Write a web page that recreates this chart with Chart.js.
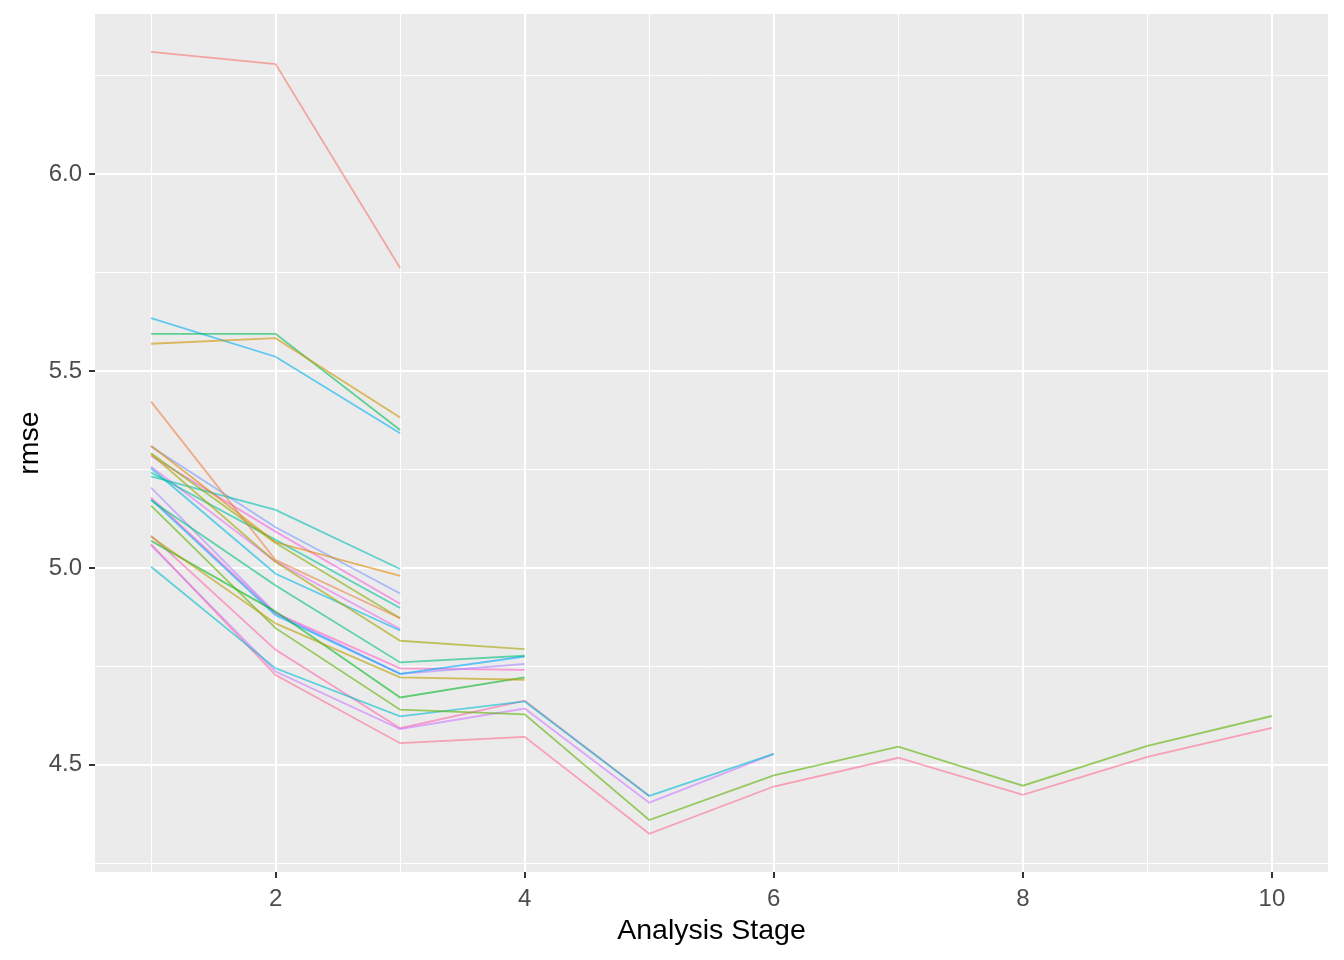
<!DOCTYPE html>
<html>
<head>
<meta charset="utf-8">
<script src="https://cdn.jsdelivr.net/npm/chart.js@4/dist/chart.umd.min.js"></script>
<style>
	html, body { margin: 0; padding: 0; background: #fff; }
	#wrap { width: 1344px; height: 960px; position: relative; }
</style>
</head>
<body>
<div id="wrap"><canvas id="rmseChart"></canvas></div>
<script>
// analysis stages on the x axis
const stages = [1, 2, 3, 4, 5, 6, 7, 8, 9, 10];

// rmse per run, one array per run (runs stop at different stages)
const runs = [
	[6.310, 6.279, 5.761],
	[5.422, 5.020, 4.872],
	[5.310, 5.065, 4.980],
	[5.569, 5.583, 5.382],
	[5.079, 4.859, 4.722, 4.716],
	[5.289, 5.015, 4.815, 4.794],
	[5.291, 5.063, 4.872],
	[5.158, 4.847, 4.640, 4.628, 4.360, 4.473, 4.546, 4.447, 4.548, 4.624],
	[5.069, 4.889, 4.671, 4.722],
	[5.594, 5.594, 5.350],
	[5.171, 4.955, 4.760, 4.777],
	[5.242, 5.071, 4.898],
	[5.232, 5.147, 4.997],
	[5.003, 4.745, 4.623, 4.661, 4.421, 4.528],
	[5.253, 4.985, 4.841],
	[5.634, 5.536, 5.342],
	[5.174, 4.880, 4.731, 4.775],
	[5.308, 5.103, 4.935],
	[5.204, 4.885, 4.731, 4.756],
	[5.057, 4.737, 4.591, 4.643, 4.404, 4.528],
	[5.257, 5.016, 4.845],
	[5.284, 5.092, 4.909],
	[5.178, 4.885, 4.745, 4.741],
	[5.082, 4.792, 4.593, 4.663, 4.421],
	[5.060, 4.728, 4.555, 4.571, 4.325, 4.445, 4.518, 4.424, 4.520, 4.594]
];

const xTicks = [1, 2, 3, 4, 5, 6, 7, 8, 9, 10];
const yTicks = [4.25, 4.5, 4.75, 5.0, 5.25, 5.5, 5.75, 6.0, 6.25];

// ggplot-like hue palette (hcl, c=100, l=65)
function hcl(h, c, l) {
	const Xn = 95.047, Yn = 100, Zn = 108.883;
	const d = Xn + 15 * Yn + 3 * Zn;
	const un = 4 * Xn / d, vn = 9 * Yn / d;
	const hr = h * Math.PI / 180;
	const u = c * Math.cos(hr), v = c * Math.sin(hr);
	const Y = Yn * Math.pow((l + 16) / 116, 3);
	const up = u / (13 * l) + un, vp = v / (13 * l) + vn;
	const X = Y * 9 * up / (4 * vp), Z = Y * (12 - 3 * up - 20 * vp) / (4 * vp);
	const x = X / 100, y = Y / 100, z = Z / 100;
	const r = 3.2404542 * x - 1.5371385 * y - 0.4985314 * z;
	const g = -0.9692660 * x + 1.8760108 * y + 0.0415560 * z;
	const b = 0.0556434 * x - 0.2040259 * y + 1.0572252 * z;
	const gam = t => {
		t = t <= 0.0031308 ? 12.92 * t : 1.055 * Math.pow(t, 1 / 2.4) - 0.055;
		return Math.round(255 * Math.min(1, Math.max(0, t)));
	};
	return [gam(r), gam(g), gam(b)];
}

const n = runs.length;
const datasets = runs.map((vals, i) => {
	const [r, g, b] = hcl(15 + 360 * i / n, 100, 65);
	return {
		label: 'run ' + (i + 1),
		data: vals.map((v, k) => ({ x: stages[k], y: v })),
		borderColor: `rgba(${r},${g},${b},0.6)`,
		borderWidth: 1.8,
		pointRadius: 0,
		tension: 0,
		fill: false
	};
});

const isMajorY = v => Math.abs(v * 2 - Math.round(v * 2)) < 1e-6;
const isMajorX = v => v % 2 === 0;

const panelBg = {
	id: 'panelBg',
	beforeDraw(chart) {
		const { ctx, chartArea: a } = chart;
		ctx.save();
		ctx.fillStyle = '#EBEBEB';
		ctx.fillRect(a.left, a.top, a.right - a.left, a.bottom - a.top);
		ctx.restore();
	}
};

new Chart(document.getElementById('rmseChart'), {
	type: 'line',
	data: { datasets },
	plugins: [panelBg],
	options: {
		responsive: true,
		maintainAspectRatio: false,
		animation: false,
		layout: { padding: { top: 14, right: 16, left: 0, bottom: 0 } },
		plugins: { legend: { display: false }, tooltip: { enabled: false } },
		scales: {
			x: {
				type: 'linear',
				min: 0.55,
				max: 10.45,
				afterBuildTicks: s => { s.ticks = xTicks.map(v => ({ value: v })); },
				afterFit: s => { s.height = 88; s.paddingLeft = 0; s.paddingRight = 0; },
				grid: {
					color: '#FFFFFF',
					lineWidth: c => isMajorX(c.tick.value) ? 2 : 1,
					tickLength: 6,
					tickColor: c => isMajorX(c.tick.value) ? '#333333' : 'rgba(0,0,0,0)',
					tickWidth: 2
				},
				border: { display: false },
				ticks: {
					autoSkip: false,
					maxRotation: 0,
					padding: 7,
					color: '#4D4D4D',
					font: { family: 'Liberation Sans, Arial, sans-serif', size: 24 },
					callback: v => isMajorX(v) ? String(v) : ''
				},
				title: {
					display: true,
					text: 'Analysis Stage',
					color: '#000000',
					padding: { top: 0, bottom: 12 },
					font: { family: 'Liberation Sans, Arial, sans-serif', size: 28.5 }
				}
			},
			y: {
				type: 'linear',
				min: 4.228,
				max: 6.406,
				afterBuildTicks: s => { s.ticks = yTicks.map(v => ({ value: v })); },
				afterFit: s => { s.width = 95; s.paddingTop = 0; s.paddingBottom = 0; },
				grid: {
					color: '#FFFFFF',
					lineWidth: c => isMajorY(c.tick.value) ? 2 : 1,
					tickLength: 6,
					tickColor: c => isMajorY(c.tick.value) ? '#333333' : 'rgba(0,0,0,0)',
					tickWidth: 2
				},
				border: { display: false },
				ticks: {
					autoSkip: false,
					padding: 7,
					color: '#4D4D4D',
					font: { family: 'Liberation Sans, Arial, sans-serif', size: 24 },
					callback: v => isMajorY(v) ? v.toFixed(1) : ''
				},
				title: {
					display: true,
					text: 'rmse',
					color: '#000000',
					padding: { top: 13, bottom: 0 },
					font: { family: 'Liberation Sans, Arial, sans-serif', size: 28.5 }
				}
			}
		}
	}
});
</script>
</body>
</html>
